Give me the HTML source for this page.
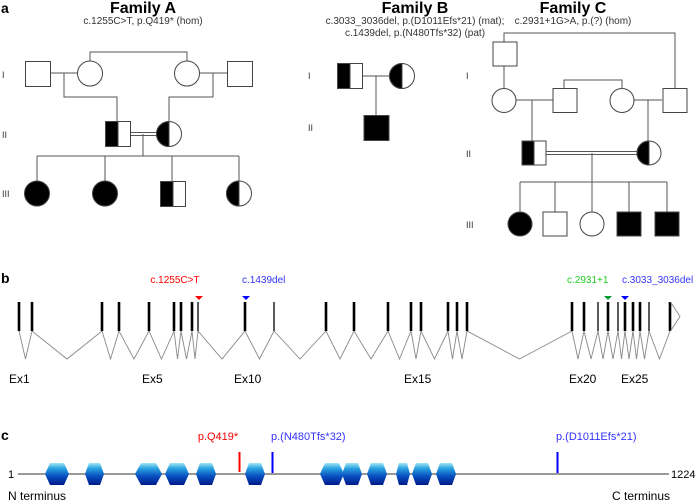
<!DOCTYPE html>
<html><head><meta charset="utf-8"><style>
body{margin:0;background:#fff}
svg{display:block}
text{font-family:"Liberation Sans",Arial,sans-serif}
</style></head><body>
<svg width="698" height="504" viewBox="0 0 698 504" xmlns="http://www.w3.org/2000/svg">
<defs>
<linearGradient id="hg" x1="0" y1="0" x2="0" y2="1">
<stop offset="0" stop-color="#9fe6f6"/><stop offset="0.25" stop-color="#2aa2e0"/><stop offset="0.6" stop-color="#0a4fc0"/><stop offset="1" stop-color="#001a8a"/>
</linearGradient>
</defs>
<!-- Panel a -->
<text x="1" y="13" font-size="14" font-weight="bold">a</text>
<text x="143" y="13" font-size="16" font-weight="bold" text-anchor="middle">Family A</text>
<text x="143" y="24" font-size="10" text-anchor="middle" fill="#333">c.1255C&gt;T, p.Q419* (hom)</text>
<text x="415" y="13" font-size="16" font-weight="bold" text-anchor="middle">Family B</text>
<text x="415" y="24" font-size="10" text-anchor="middle" fill="#333">c.3033_3036del, p.(D1011Efs*21) (mat);</text>
<text x="415" y="36" font-size="10" text-anchor="middle" fill="#333">c.1439del, p.(N480Tfs*32) (pat)</text>
<text x="573" y="13" font-size="16" font-weight="bold" text-anchor="middle">Family C</text>
<text x="573" y="24" font-size="10" text-anchor="middle" fill="#333">c.2931+1G&gt;A, p.(?) (hom)</text>

<g font-size="9" fill="#333">
<text x="2" y="78">I</text><text x="2" y="138">II</text><text x="2" y="197">III</text>
<text x="308" y="79">I</text><text x="308" y="131">II</text>
<text x="466" y="79">I</text><text x="466" y="157">II</text><text x="466" y="228">III</text>
</g>

<g stroke="#555" stroke-width="1" fill="none">
<path d="M90 61V52H187V61"/>
<path d="M51 73H78M64 73V97H117V121"/>
<path d="M200 73H227M213 73V97H169V121"/>
<path d="M130 132.5H157M130 135.5H157" stroke-width="1"/>
<path d="M143 134V156M37 156H239M37 156V181M105 156V181M172 156V181M239 156V181"/>
<path d="M363 76H390M376 76V115"/>
<path d="M504 42V33H675V88M504 66V88"/>
<path d="M564 88V80H622V88"/>
<path d="M516 100H553M532 100V141"/>
<path d="M634 100H662M648 100V141"/>
<path d="M546 151.5H637M546 154.5H637"/>
<path d="M592 153V182M520 182H667M520 182V212M555 182V212M592 182V212M629 182V212M667 182V212"/>
</g>

<g stroke="#444" stroke-width="1">
<rect x="25.5" y="61.5" width="25" height="25" fill="#fff"/>
<circle cx="90" cy="73.5" r="12.5" fill="#fff"/>
<circle cx="187" cy="73.5" r="12.5" fill="#fff"/>
<rect x="227.5" y="61.5" width="25" height="25" fill="#fff"/>
<rect x="105.5" y="121.5" width="25" height="25" fill="#fff"/>
<rect x="105.5" y="121.5" width="12.5" height="25" fill="#000"/>
<circle cx="169" cy="134" r="12.5" fill="#fff"/>
<path d="M169 121.5A12.5 12.5 0 0 0 169 146.5Z" fill="#000"/>
<circle cx="37" cy="193.5" r="12.5" fill="#000"/>
<circle cx="105" cy="193.5" r="12.5" fill="#000"/>
<rect x="160.5" y="181.5" width="25" height="25" fill="#fff"/>
<rect x="160.5" y="181.5" width="12.5" height="25" fill="#000"/>
<circle cx="239" cy="193.5" r="12.5" fill="#fff"/>
<path d="M239 181A12.5 12.5 0 0 0 239 206Z" fill="#000"/>
<rect x="337.5" y="63.5" width="25" height="25" fill="#fff"/>
<rect x="337.5" y="63.5" width="12.5" height="25" fill="#000"/>
<circle cx="402" cy="76" r="12.5" fill="#fff"/>
<path d="M402 63.5A12.5 12.5 0 0 0 402 88.5Z" fill="#000"/>
<rect x="364" y="115.5" width="25" height="25" fill="#000"/>
<rect x="493" y="42" width="24" height="24" fill="#fff"/>
<circle cx="504" cy="100.5" r="12" fill="#fff"/>
<rect x="553" y="88.5" width="24" height="24" fill="#fff"/>
<circle cx="622" cy="100.5" r="12" fill="#fff"/>
<rect x="663" y="88.5" width="24" height="24" fill="#fff"/>
<rect x="522" y="141" width="24" height="24" fill="#fff"/>
<rect x="522" y="141" width="12" height="24" fill="#000"/>
<circle cx="649" cy="153" r="12" fill="#fff"/>
<path d="M649 141A12 12 0 0 0 649 165Z" fill="#000"/>
<circle cx="520" cy="224" r="12" fill="#000"/>
<rect x="543" y="212" width="24" height="24" fill="#fff"/>
<circle cx="592" cy="224" r="12" fill="#fff"/>
<rect x="617" y="212" width="24" height="24" fill="#000"/>
<rect x="655" y="212" width="24" height="24" fill="#000"/>
</g>

<!-- Panel b -->
<text x="1" y="283" font-size="14" font-weight="bold">b</text>
<g font-size="10">
<text x="175" y="283" fill="#f00" text-anchor="middle">c.1255C&gt;T</text>
<text x="242" y="283" fill="#33f">c.1439del</text>
<text x="567" y="283" fill="#2c2">c.2931+1</text>
<text x="622" y="283" fill="#33f">c.3033_3036del</text>
</g>
<path d="M195 296H203L199 300Z" fill="#f00"/>
<path d="M242 296H250L246 300Z" fill="#00f"/>
<path d="M604 296H612L608 300Z" fill="#093"/>
<path d="M621 296H629L625 300Z" fill="#00f"/>
<polyline fill="none" stroke="#888" stroke-width="0.9" points="19,331 25.5,359 32,331 67,359 102,331 110.5,359 119,331 134,359 149,331 161.5,359 174,331 177.5,359 181,331 186.5,359 192,331 195,359 198,331 222,359 245,331 259.5,359 274,331 300,359 326,331 340,359 354,331 371,359 388,331 399.5,359 411,331 416,359 421,331 434.5,359 448,331 452.5,359 457,331 462,359 467,331 519.5,359 572,331 578,359 584,331 591,359 598,331 603,359 608,331 613,359 618,331 621.5,359 625,331 629,359 633,331 636.5,359 640,331 644.5,359 649,331 659.5,359 670,331"/>
<g stroke="#000">
<path stroke-width="2.6" d="M19 302V331M32 302V331M102 302V331M119 302V331M149 302V331M174 302V331M181 302V331M192 302V331M245 302V331M326 302V331M354 302V331M388 302V331M411 302V331M421 302V331M448 302V331M457 302V331M467 302V331M572 302V331M584 302V331M608 302V331M625 302V331M633 302V331M640 302V331M670 302V331"/>
<path stroke-width="1.3" d="M198 302V331M274 302V331M598 302V331M618 302V331M649 302V331"/>
</g>
<path d="M670.5 302L680 316.5L670.5 331" fill="none" stroke="#888" stroke-width="0.9"/>
<g font-size="12">
<text x="9" y="383">Ex1</text><text x="142" y="383">Ex5</text><text x="234" y="383">Ex10</text>
<text x="404" y="383">Ex15</text><text x="569" y="383">Ex20</text><text x="621" y="383">Ex25</text>
</g>

<!-- Panel c -->
<text x="1" y="440" font-size="14" font-weight="bold">c</text>
<text x="218" y="440" font-size="11" fill="#f00" text-anchor="middle">p.Q419*</text>
<text x="271" y="440" font-size="11" fill="#33f">p.(N480Tfs*32)</text>
<text x="556" y="440" font-size="11" fill="#33f">p.(D1011Efs*21)</text>
<line x1="18" y1="474" x2="669" y2="474" stroke="#999" stroke-width="2"/>
<text x="8" y="478" font-size="11">1</text>
<text x="671" y="478" font-size="11">1224</text>
<line x1="239.5" y1="452" x2="239.5" y2="472" stroke="#f00" stroke-width="2"/>
<line x1="272.5" y1="452" x2="272.5" y2="473" stroke="#00f" stroke-width="2"/>
<line x1="557.5" y1="452" x2="557.5" y2="473" stroke="#00f" stroke-width="2"/>
<g fill="url(#hg)">
<path d="M50 463H64L69 474L64 485H50L45 474Z"/>
<path d="M89 463H100L104 474L100 485H89L85 474Z"/>
<path d="M141 463H156L162 474L156 485H141L135 474Z"/>
<path d="M170 463H184L189 474L184 485H170L165 474Z"/>
<path d="M200 463H212L216 474L212 485H200L196 474Z"/>
<path d="M249 463H261L265 474L261 485H249L245 474Z"/>
<path d="M325 463H339L344 474L339 485H325L320 474Z"/>
<path d="M346 463H358L362 474L358 485H346L342 474Z"/>
<path d="M371 463H383L387 474L383 485H371L367 474Z"/>
<path d="M399 463H407L410 474L407 485H399L396 474Z"/>
<path d="M416 463H428L432 474L428 485H416L412 474Z"/>
<path d="M440 463H452L456 474L452 485H440L436 474Z"/>
</g>
<text x="8" y="500" font-size="12">N terminus</text>
<text x="612" y="500" font-size="12">C terminus</text>
</svg>
</body></html>
